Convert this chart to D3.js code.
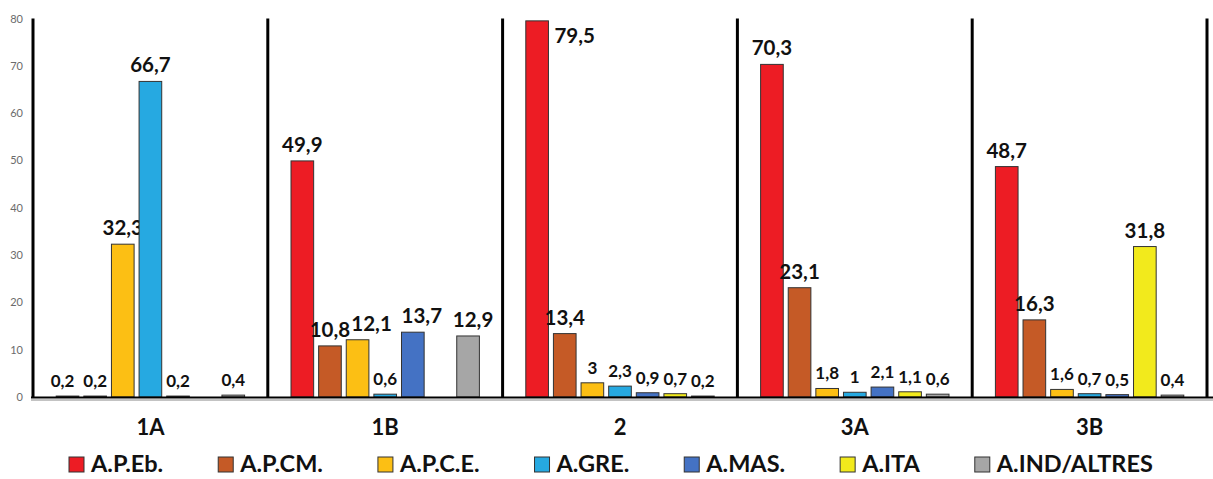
<!DOCTYPE html>
<html>
<head>
<meta charset="utf-8">
<script src="https://cdn.jsdelivr.net/npm/d3@7"></script>
<style>
  body { margin: 0; background: #fff; }
  svg { display: block; font-family: Lato, "Open Sans", sans-serif; }
</style>
</head>
<body>
<svg width="1213" height="479"></svg>
<script>
var WIDTH = 1213;
var HEIGHT = 479;

var categories = ['1A', '1B', '2', '3A', '3B'];
var series = ['A.P.Eb.', 'A.P.CM.', 'A.P.C.E.', 'A.GRE.', 'A.MAS.', 'A.ITA', 'A.IND/ALTRES'];
var colors = ['#ed1c24', '#c55a26', '#fcbf14', '#26a9e1', '#4472c4', '#f2ea1c', '#a6a6a6'];
// one row per category, one value per series (null = no bar)
var values = [
    [0.2, 0.2, 32.3, 66.7, 0.2, null, 0.4],
    [49.9, 10.8, 12.1, 0.6, 13.7, null, 12.9],
    [79.5, 13.4, 3, 2.3, 0.9, 0.7, 0.2],
    [70.3, 23.1, 1.8, 1, 2.1, 1.1, 0.6],
    [48.7, 16.3, 1.6, 0.7, 0.5, 31.8, 0.4]
];
var yTicks = [0, 10, 20, 30, 40, 50, 60, 70, 80];

// a few labels were pushed sideways by hand in the original so they don't collide
var labelNudge = { '1B|A.P.C.E.': 14, '1B|A.MAS.': 9, '1B|A.IND/ALTRES': 5, '1A|A.P.Eb.': -5 };

var svg = d3.select('svg');

var x0 = d3.scaleBand()
    .domain(categories)
    .range([33, 1207])
    .padding(0);

var x1 = d3.scaleBand()
    .domain(series)
    .range([0, x0.bandwidth()])
    .paddingInner(0.18)
    .paddingOuter(0.84);

var y = d3.scaleLinear()
    .domain([0, 80])
    .range([397, 18.5]);

var color = d3.scaleOrdinal().domain(series).range(colors);

var fmt = function(v) { return String(v).replace('.', ','); };

// y axis labels only
svg.append('g')
    .attr('transform', 'translate(33,0)')
    .call(d3.axisLeft(y).tickValues(yTicks).tickSize(0).tickPadding(10).tickFormat(d3.format('d')))
    .call(function(g) { g.select('.domain').remove(); })
    .selectAll('text')
    .attr('font-family', 'Lato, sans-serif')
    .attr('font-size', 11)
    .attr('fill', '#6b6b6b');

// bars
var groups = svg.selectAll('g.group')
    .data(values)
    .enter()
    .append('g')
    .attr('class', 'group')
    .attr('transform', function(d, i) { return 'translate(' + x0(categories[i]) + ',0)'; });

var cells = groups.selectAll('g.cell')
    .data(function(row, i) {
        return row.map(function(v, j) { return { cat: categories[i], key: series[j], value: v }; })
            .filter(function(d) { return d.value !== null; });
    })
    .enter()
    .append('g')
    .attr('class', 'cell');

cells.append('rect')
    .attr('x', function(d) { return x1(d.key); })
    .attr('y', function(d) { return y(d.value); })
    .attr('width', x1.bandwidth())
    .attr('height', function(d) { return y(0) - y(d.value); })
    .attr('fill', function(d) { return color(d.key); })
    .attr('stroke', '#333')
    .attr('stroke-width', 1);

cells.append('text')
    .attr('x', function(d) {
        if (y(d.value) < 40) return x1(d.key) + x1.bandwidth() + 6; // no room above: put it on the side
        return x1(d.key) + x1.bandwidth() / 2 + (labelNudge[d.cat + '|' + d.key] || 0);
    })
    .attr('y', function(d) {
        if (y(d.value) < 40) return y(d.value) + 22;
        return y(d.value) - 9;
    })
    .attr('text-anchor', function(d) { return y(d.value) < 40 ? 'start' : 'middle'; })
    .attr('font-weight', 'bold')
    .attr('font-size', function(d) { return d.value >= 10 ? 20.5 : 17; })
    .attr('fill', '#111')
    .text(function(d) { return fmt(d.value); });

// separators between categories (the first one is the y axis line)
svg.append('g')
    .selectAll('line')
    .data(categories.concat(['end']))
    .enter()
    .append('line')
    .attr('x1', function(d, i) { return i < categories.length ? x0(d) : x0.range()[1]; })
    .attr('x2', function(d, i) { return i < categories.length ? x0(d) : x0.range()[1]; })
    .attr('y1', y(80))
    .attr('y2', y(0))
    .attr('stroke', '#000')
    .attr('stroke-width', 3);

// base line
svg.append('line')
    .attr('x1', 31).attr('x2', WIDTH)
    .attr('y1', y(0) + 0.5).attr('y2', y(0) + 0.5)
    .attr('stroke', '#000').attr('stroke-width', 2);
svg.append('line')
    .attr('x1', 31).attr('x2', WIDTH)
    .attr('y1', y(0) + 3).attr('y2', y(0) + 3)
    .attr('stroke', '#888').attr('stroke-width', 1);

// category labels
svg.append('g')
    .attr('transform', 'translate(0,' + y(0) + ')')
    .call(d3.axisBottom(x0).tickSize(0).tickPadding(22))
    .call(function(g) { g.select('.domain').remove(); })
    .selectAll('text')
    .attr('font-family', 'Lato, sans-serif')
    .attr('font-size', 22)
    .attr('font-weight', 'bold')
    .attr('fill', '#111');

// legend
var legend = svg.append('g').attr('transform', 'translate(0,472)');
var items = legend.selectAll('g')
    .data(series)
    .enter()
    .append('g');

items.append('rect')
    .attr('y', -15)
    .attr('width', 15)
    .attr('height', 15)
    .attr('fill', function(d) { return color(d); })
    .attr('stroke', '#333')
    .attr('stroke-width', 1);

items.append('text')
    .attr('x', 22)
    .attr('font-size', 23.5)
    .attr('font-weight', 'bold')
    .attr('fill', '#111')
    .text(function(d) { return d; });

var cursor = 69;
items.attr('transform', function() {
    var pos = cursor;
    cursor += 22 + d3.select(this).select('text').node().getComputedTextLength() + 55;
    return 'translate(' + pos + ',0)';
});
</script>
</body>
</html>
